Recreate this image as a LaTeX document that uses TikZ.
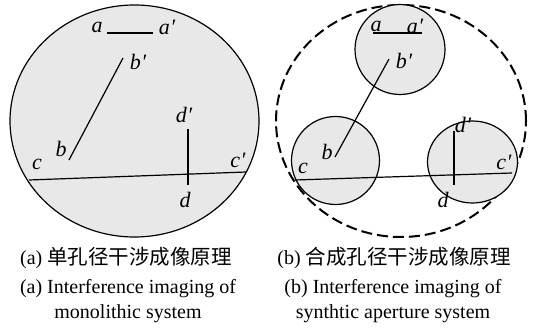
\documentclass[tikz,border=0pt]{standalone}
\usepackage{fontspec}
\setmainfont{Liberation Serif}
\newfontfamily\cjk{Noto Sans CJK SC}
\newcommand{\pr}{\kern0.5pt\char"2032}
\begin{document}
\begin{tikzpicture}[x=1pt,y=1pt,
  aper/.style={draw=black,line width=1.2pt,fill=gray!18},
  synth/.style={draw=black,line width=2pt,dash pattern=on 11pt off 5pt},
  seg/.style={draw=black,line width=1.2pt},
  lbl/.style={inner sep=0pt,font=\fontsize{22}{22}\selectfont\itshape},
  captext/.style={inner sep=0pt,anchor=base,font=\fontsize{20}{22}\selectfont}]
\useasboundingbox (0,0) rectangle (538,330);
% ---------- (a) ----------
\path[aper] (134.5,209) ellipse [x radius=124.5, y radius=116];
\coordinate (La1) at (107,297); \coordinate (La2) at (153,297);
\coordinate (Lb1) at (69,170);  \coordinate (Lb2) at (123,272);
\coordinate (Ld1) at (188,201); \coordinate (Ld2) at (188,145);
\coordinate (Lc1) at (29,150);  \coordinate (Lc2) at (246,158);
\draw[seg] (La1) -- (La2);
\draw[seg] (Lb1) -- (Lb2);
\draw[seg] (Ld1) -- (Ld2);
\draw[seg] (Lc1) -- (Lc2);
\node[lbl] (la)  at (97,303)  {a};
\node[lbl] (lap) at (167,303) {a\pr};
\node[lbl] (lbp) at (138,268) {b\pr};
\node[lbl] (lb)  at (61,181)  {b};
\node[lbl] (ldp) at (184,215) {d\pr};
\node[lbl] (ld)  at (185,130) {d};
\node[lbl] (lc)  at (37,166)  {c};
\node[lbl] (lcp) at (238,170) {c\pr};
% ---------- (b) ----------
\path[synth] (401,209) ellipse [x radius=125, y radius=116];
\path[aper] (400,280.5) circle [radius=45];
\path[aper] (335.5,169.5) circle [radius=44];
\path[aper] (472.5,168) ellipse [x radius=45, y radius=41];
\coordinate (Ra1) at (373,297); \coordinate (Ra2) at (422,297);
\coordinate (Rb1) at (335,173); \coordinate (Rb2) at (389,271);
\coordinate (Rd1) at (454,199); \coordinate (Rd2) at (454,145);
\coordinate (Rc1) at (295,150); \coordinate (Rc2) at (512,157);
\draw[seg] (Ra1) -- (Ra2);
\draw[seg] (Rb1) -- (Rb2);
\draw[seg] (Rd1) -- (Rd2);
\draw[seg] (Rc1) -- (Rc2);
\node[lbl] (ra)  at (376,304) {a};
\node[lbl] (rap) at (415,304) {a\pr};
\node[lbl] (rbp) at (404,269) {b\pr};
\node[lbl] (rb)  at (327,178) {b};
\node[lbl] (rdp) at (463,205) {d\pr};
\node[lbl] (rd)  at (443,130) {d};
\node[lbl] (rc)  at (303,162) {c};
\node[lbl] (rcp) at (504,168) {c\pr};
% ---------- captions ----------
\node[captext] (ca1) at (126,66) {(a) {\cjk\fontsize{20.5}{22}\selectfont 单孔径干涉成像原理}};
\node[captext] (ca2) at (128,37) {(a) Interference imaging of};
\node[captext] (ca3) at (128,12) {monolithic system};
\node[captext] (cb1) at (394,66) {(b) {\cjk\fontsize{20.5}{22}\selectfont 合成孔径干涉成像原理}};
\node[captext] (cb2) at (393,37) {(b) Interference imaging of};
\node[captext] (cb3) at (393,12) {synthtic aperture system};
\end{tikzpicture}
\end{document}
